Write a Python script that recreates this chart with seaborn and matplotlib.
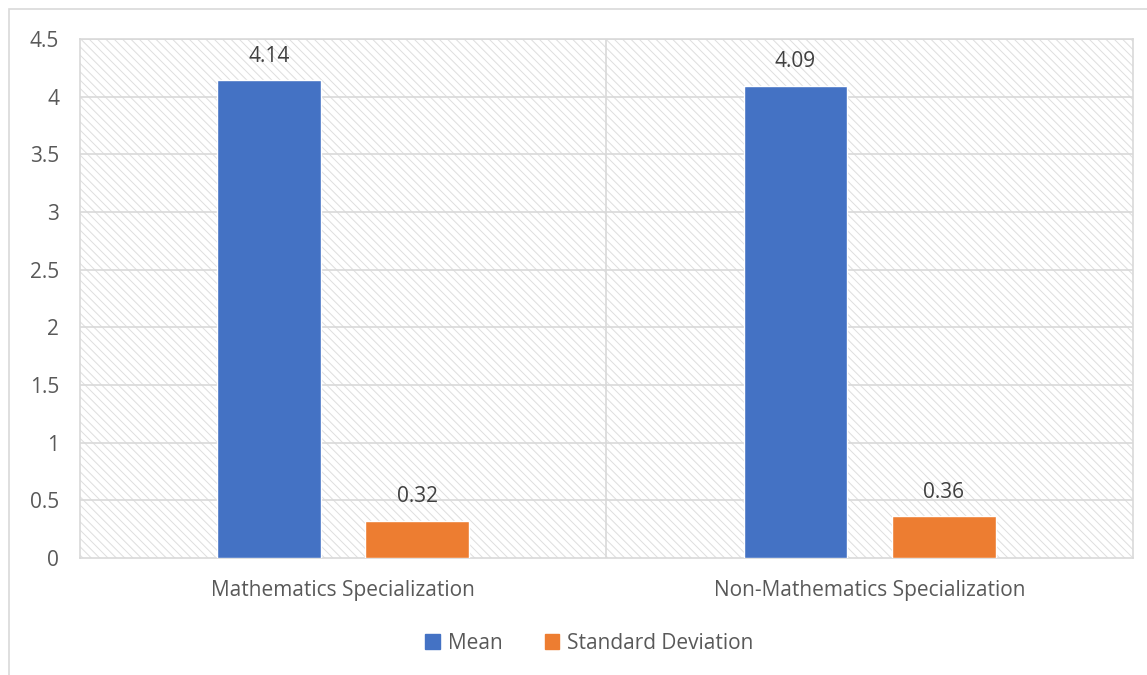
import pandas as pd
import numpy as np
import seaborn as sns
import matplotlib.pyplot as plt
from matplotlib.patches import Rectangle

# ================================
# Data
# ================================

groups = ["Mathematics Specialization", "Non-Mathematics Specialization"]
mean_values = [4.14, 4.09]
sd_values = [0.32, 0.36]
measures = ["Mean", "Standard Deviation"]
y_ticks = [0, 0.5, 1, 1.5, 2, 2.5, 3, 3.5, 4, 4.5]

df = pd.DataFrame({
    "Group": groups * 2,
    "Measure": [measures[0]] * 2 + [measures[1]] * 2,
    "Value": mean_values + sd_values,
})

palette = {"Mean": "#4472C4", "Standard Deviation": "#ED7D31"}

# ================================
# Style
# ================================

sns.set_theme(style="white")
plt.rcParams["font.family"] = ["Open Sans", "DejaVu Sans"]
plt.rcParams["hatch.linewidth"] = 0.7

text_color = "#595959"
grid_color = "#d9d9d9"
fs = 15

fig = plt.figure(figsize=(11.47, 6.75), dpi=100)
ax = fig.add_axes([0.0697, 0.1733, 0.918, 0.769])

# outer chart border
fig.patches.append(Rectangle((9 / 1147, -0.1), 1.2, 1 - 9 / 675 + 0.1,
                             transform=fig.transFigure, fill=False,
                             edgecolor=grid_color, linewidth=1.2, zorder=0))

# hatched plot area
ax.set_facecolor("white")
ax.add_patch(Rectangle((0, 0), 1, 1, transform=ax.transAxes,
                       facecolor="white", edgecolor="#dedede",
                       linewidth=0, hatch="\\\\\\\\", zorder=0))

sns.barplot(
    data=df,
    x="Group",
    y="Value",
    hue="Measure",
    palette=palette,
    width=0.563,
    gap=0.30,
    saturation=1,
    legend=False,
    ax=ax,
    zorder=3,
)

for container in ax.containers:
    ax.bar_label(container, fmt="%g", padding=10, fontsize=fs,
                 color="#404040")

ax.set_ylim(0, 4.5)
ax.set_xlim(-0.5, 1.5)
ax.set_yticks(y_ticks)
ax.set_yticklabels(["%g" % t for t in y_ticks])

for t in y_ticks[1:]:
    ax.axhline(t, color=grid_color, linewidth=1.2, zorder=1)
ax.axvline(0.5, color=grid_color, linewidth=1.2, zorder=1)

for spine in ax.spines.values():
    spine.set_color(grid_color)
    spine.set_linewidth(1.2)

ax.tick_params(axis="y", length=0, pad=15, labelsize=fs, labelcolor=text_color)
ax.tick_params(axis="x", length=0, pad=16, labelsize=fs, labelcolor=text_color)
ax.set_xlabel("")
ax.set_ylabel("")

# legend
handles = [Rectangle((0, 0), 1, 1, color=palette[m]) for m in measures]
fig.legend(handles, measures, loc="center", bbox_to_anchor=(0.514, 0.047),
           ncol=2, frameon=False, fontsize=fs, handlelength=0.7,
           handleheight=0.7, handletextpad=0.4, columnspacing=2.0,
           labelcolor=text_color)

fig.savefig("out.png", dpi=100)
